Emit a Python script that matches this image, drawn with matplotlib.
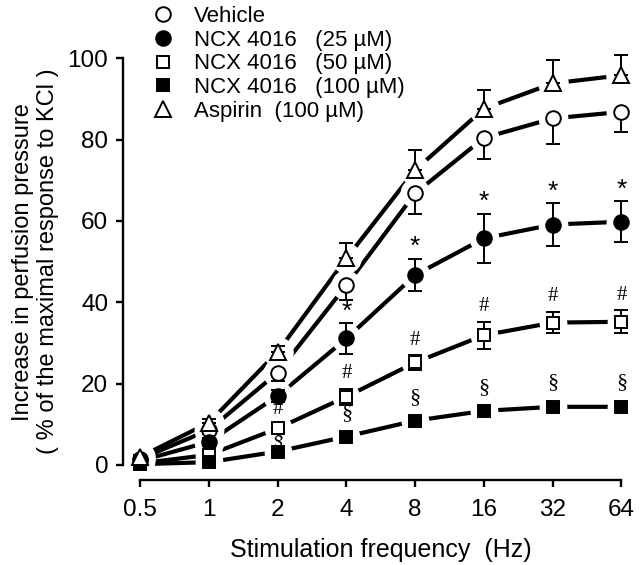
import numpy as np
import matplotlib.pyplot as plt
from matplotlib.lines import Line2D

plt.rcParams['font.family'] = ['Liberation Sans', 'DejaVu Sans']

# stimulation frequencies (Hz)
freq = [0.5, 1, 2, 4, 8, 16, 32, 64]
freq_labels = ['0.5', '1', '2', '4', '8', '16', '32', '64']

# mean responses (% of maximal KCl response) and SEM
vehicle = [1.5, 8.6, 22.7, 44.2, 66.8, 80.4, 85.2, 86.8]
vehicle_err = [0.5, 1.0, 2.0, 3.7, 5.0, 5.3, 6.3, 5.0]
ncx25 = [1.0, 5.7, 17.0, 31.1, 46.7, 55.7, 59.1, 59.8]
ncx25_err = [0.5, 1.0, 1.5, 3.7, 4.0, 6.1, 5.2, 5.0]
ncx50 = [0.4, 2.5, 9.0, 16.8, 25.2, 31.9, 35.0, 35.2]
ncx50_err = [0.3, 0.8, 1.0, 2.0, 1.8, 3.3, 2.6, 2.8]
ncx100 = [0.2, 0.7, 3.3, 7.0, 10.9, 13.3, 14.3, 14.3]
ncx100_err = [0.2, 0.3, 0.5, 0.5, 0.6, 0.7, 0.8, 0.8]
aspirin = [2.0, 10.4, 27.8, 50.8, 72.5, 87.6, 93.8, 95.8]
aspirin_err = [0.5, 1.0, 1.5, 3.8, 5.0, 4.7, 5.7, 5.0]

# significance marks start at these indices
star_from = 3   # '*' on NCX 25 from 4 Hz
hash_from = 2   # '#' on NCX 50 from 2 Hz
sect_from = 2   # '§' on NCX 100 from 2 Hz

fig = plt.figure(figsize=(6.4, 5.65), dpi=100)
ax = fig.add_axes([0.219, 0.177, 0.752, 0.720])

series = [
    (vehicle, vehicle_err, 'o', 'white', 'down', 'Vehicle'),
    (ncx25, ncx25_err, 'o', 'black', 'both', 'NCX 4016   (25 µM)'),
    (ncx50, ncx50_err, 's', 'white', 'both', 'NCX 4016   (50 µM)'),
    (ncx100, ncx100_err, 's', 'black', 'both', 'NCX 4016   (100 µM)'),
    (aspirin, aspirin_err, '^', 'white', 'up', 'Aspirin  (100 µM)'),
]
sizes = {'o': 10.5, 's': 9, '^': 11}

handles = []
for y, err, mk, fc, side, lab in series:
    ms = sizes[mk]
    ax.plot(freq, y, color='black', lw=3, zorder=1, clip_on=False)
    # white halo so the line stops short of each marker
    ax.plot(freq, y, ls='none', marker='o', ms=ms + 11, mfc='white',
            mec='none', zorder=2, clip_on=False)
    lo = [0] * len(err) if side == 'up' else err
    hi = [0] * len(err) if side == 'down' else err
    ax.errorbar(freq, y, yerr=[lo, hi], fmt='none', ecolor='black',
                elinewidth=1.4, capsize=5, capthick=1.4, zorder=3,
                clip_on=False)
    ax.plot(freq, y, ls='none', marker=mk, ms=ms, mfc=fc, mec='black',
            mew=1.4, zorder=4, clip_on=False)
    handles.append(Line2D([], [], ls='none', marker=mk, ms=ms, mfc=fc,
                          mec='black', mew=1.4, label=lab))

for i in range(star_from, len(freq)):
    ax.annotate('*', (freq[i], ncx25[i] + ncx25_err[i]), xytext=(0, 0),
                textcoords='offset points', ha='center', va='bottom',
                fontsize=19)
for i in range(hash_from, len(freq)):
    ax.annotate('#', (freq[i], ncx50[i] + ncx50_err[i]), xytext=(0, 4),
                textcoords='offset points', ha='center', va='bottom',
                fontsize=15, family='Liberation Serif')
for i in range(sect_from, len(freq)):
    off = 1 if i == sect_from else 8
    ax.annotate('§', (freq[i], ncx100[i] + ncx100_err[i]), xytext=(0, off),
                textcoords='offset points', ha='center', va='bottom',
                fontsize=16, family='Liberation Serif')

ax.set_xscale('log', base=2)
ax.set_xlim(0.5, 64)
ax.set_ylim(0, 100)
ax.set_xticks(freq)
ax.set_xticklabels(freq_labels)
ax.minorticks_off()
ax.set_yticks([0, 20, 40, 60, 80, 100])

for s in ['top', 'right']:
    ax.spines[s].set_visible(False)
ax.spines['left'].set_position(('outward', 12))
ax.spines['bottom'].set_position(('outward', 10.5))
ax.spines['left'].set_linewidth(1.7)
ax.spines['bottom'].set_linewidth(1.7)
ax.tick_params(direction='out', length=5, width=1.7, labelsize=17.5)
ax.tick_params(axis='x', pad=9)
ax.tick_params(axis='y', pad=6)

ax.set_xlabel('Stimulation frequency  (Hz)', fontsize=18, labelpad=12)
ax.set_ylabel('Increase in perfusion pressure\n( % of the maximal response to KCl )',
              fontsize=17, linespacing=1.2, labelpad=6)

fig.legend(handles=handles, loc='upper left', bbox_to_anchor=(0.227, 1.005),
           frameon=False, fontsize=16, handlelength=0.8, handletextpad=1.0,
           labelspacing=0.12, borderaxespad=0)

fig.savefig('out.png', dpi=100)
